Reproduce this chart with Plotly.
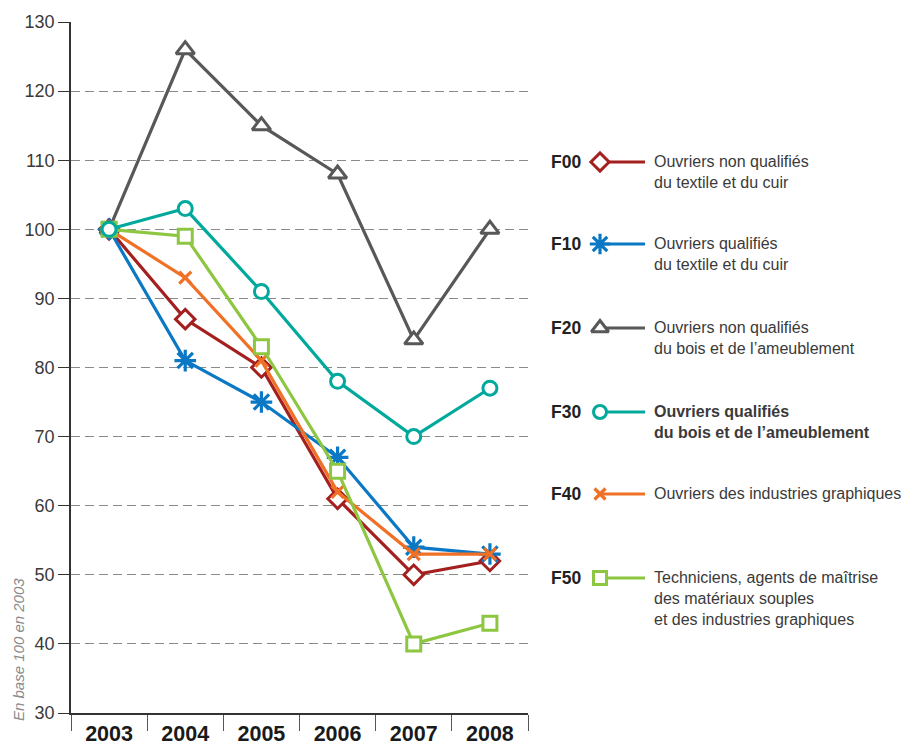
import plotly.graph_objects as go

years = ["2003", "2004", "2005", "2006", "2007", "2008"]
f00 = [100, 87, 80, 61, 50, 52]
f10 = [100, 81, 75, 67, 54, 53]
f20 = [100, 126, 115, 108, 84, 100]
f30 = [100, 103, 91, 78, 70, 77]
f40 = [100, 93, 81, 62, 53, 53]
f50 = [100, 99, 83, 65, 40, 43]

codes = ["F00", "F10", "F20", "F30", "F40", "F50"]
labels = [
    "Ouvriers non qualifiés<br>du textile et du cuir",
    "Ouvriers qualifiés<br>du textile et du cuir",
    "Ouvriers non qualifiés<br>du bois et de l’ameublement",
    "<b>Ouvriers qualifiés<br>du bois et de l’ameublement</b>",
    "Ouvriers des industries graphiques",
    "Techniciens, agents de maîtrise<br>des matériaux souples<br>et des industries graphiques",
]
y_title = "En base 100 en 2003"

colors = ["#a3201f", "#0a78c4", "#58585a", "#00a99b", "#f07126", "#8dc641"]
symbols = ["diamond", "asterisk-open", "triangle-up", "circle", "x-thin-open", "square"]
sizes = [15, 18, 16, 14, 12, 14]
series = [f00, f10, f20, f30, f40, f50]

W, H = 906, 747
L, R, T, B = 71, 0, 22, 34
PW = W - L - R
PH = H - T - B
plot_right = 528

fig = go.Figure()

def marker_for(i, size=None):
    sym = symbols[i]
    s = size if size is not None else sizes[i]
    if sym in ("asterisk-open", "x-thin-open"):
        return dict(symbol=sym, size=s, color=colors[i],
                    line=dict(color=colors[i], width=3.2))
    return dict(symbol=sym, size=s, color="white",
                line=dict(color=colors[i], width=3))

order = [0, 1, 2, 4, 5, 3]
for i in order:
    fig.add_trace(go.Scatter(
        x=years, y=series[i], mode="lines+markers",
        line=dict(color=colors[i], width=3.2),
        marker=marker_for(i), name=codes[i], showlegend=False,
        xaxis="x", yaxis="y", hoverinfo="skip", cliponaxis=False,
    ))

# Legend rows (pixel-from-top positions of first text line)
row_py = [162, 244, 328, 412, 494, 578]
leg_x0, leg_x1 = 600, 645
for i, py in enumerate(row_py):
    fig.add_trace(go.Scatter(
        x=[leg_x0, leg_x1], y=[py, py], mode="lines",
        line=dict(color=colors[i], width=3.2),
        showlegend=False, xaxis="x2", yaxis="y2", hoverinfo="skip", cliponaxis=False,
    ))
    fig.add_trace(go.Scatter(
        x=[leg_x0], y=[py], mode="markers",
        marker=marker_for(i, sizes[i] - 1),
        showlegend=False, xaxis="x2", yaxis="y2", hoverinfo="skip", cliponaxis=False,
    ))

def px_x(px):
    return (px - L) / PW

def px_y(py):
    return (H - B - py) / PH

annotations = []
for i, py in enumerate(row_py):
    annotations.append(dict(
        x=px_x(583), y=px_y(py), xref="paper", yref="paper",
        text="<b>" + codes[i] + "</b>", showarrow=False,
        xanchor="right", yanchor="middle",
        font=dict(family="Liberation Sans", size=17.5, color="#222"),
    ))
    annotations.append(dict(
        x=px_x(652), y=px_y(py - 11), xref="paper", yref="paper",
        text=labels[i], showarrow=False, align="left",
        xanchor="left", yanchor="top",
        font=dict(family="Liberation Sans", size=16, color="#3a3a3a"),
    ))

annotations.append(dict(
    x=px_x(18), y=px_y(650), xref="paper", yref="paper",
    text="<i>" + y_title + "</i>", showarrow=False, textangle=-90,
    xanchor="center", yanchor="middle",
    font=dict(family="Liberation Sans", size=15, color="#8a8a8a"),
))

fig.update_layout(
    width=W, height=H,
    margin=dict(l=L, r=R, t=T, b=B, pad=0),
    paper_bgcolor="white", plot_bgcolor="white",
    xaxis=dict(
        domain=[0, (plot_right - L) / PW], type="category",
        range=[-0.5, 5.5], tickson="boundaries", ticks="outside", ticklen=16,
        tickwidth=1.2, tickcolor="#555", showline=True, linecolor="#333", linewidth=1.5,
        showgrid=False, zeroline=False,
        tickfont=dict(family="Liberation Sans", size=21.5, color="#1a1a1a", weight="bold"),
        fixedrange=True, automargin=False,
    ),
    yaxis=dict(
        range=[30, 130], dtick=10, ticks="outside", ticklen=11, tickwidth=1.2,
        tickcolor="#333", showline=True,
        linecolor="#333", linewidth=1.5,
        showgrid=True, gridcolor="#8a8a8a", gridwidth=1, griddash="9px,5px",
        zeroline=False,
        tickfont=dict(family="Liberation Sans", size=18, color="#3a3a3a"),
        fixedrange=True, automargin=False,
    ),
    xaxis2=dict(domain=[(540 - L) / PW, 1], range=[540, 906], visible=False,
                anchor="y2", fixedrange=True),
    yaxis2=dict(domain=[0, 1], range=[H - B, T], visible=False,
                anchor="x2", fixedrange=True),
    annotations=annotations,
)

fig.write_html("out.html", config={"displayModeBar": False})

# remove default page margin so the figure sits at the window's top-left corner
with open("out.html", "r", encoding="utf-8") as fh:
    html = fh.read()
html = html.replace("<body>", '<body style="margin:0;padding:0;overflow:hidden">', 1)
with open("out.html", "w", encoding="utf-8") as fh:
    fh.write(html)
